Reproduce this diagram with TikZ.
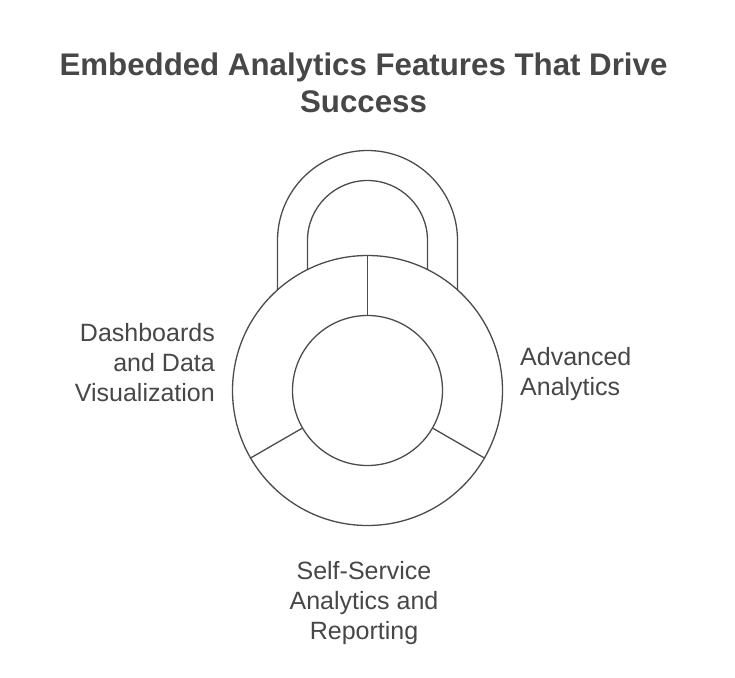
\documentclass[tikz,border=0pt]{standalone}
\usepackage{fontspec}
\setmainfont{Liberation Sans}
\tikzset{
  line/.style={draw=black!70!white,line width=1.3pt},
  label/.style={text=black!72!white,font=\fontsize{25}{30}\selectfont,inner sep=0pt,align=center},
  titletext/.style={text=black!72!white,font=\fontsize{31.25}{37.5}\selectfont\bfseries,inner sep=0pt,align=center}
}
\begin{document}
\begin{tikzpicture}[x=1pt,y=-1pt]
\useasboundingbox (0,0) rectangle (735,677);
\fill[white] (0,0) rectangle (735,677);
\coordinate (c) at (367.5,390.5);
\coordinate (sl) at (277.5,290);
\coordinate (sr) at (457.5,290);
\coordinate (il) at (307.5,269);
\coordinate (ir) at (427.5,269);
% shackle
\draw[line] (sl) -- (277.5,240.5) arc[start angle=180,end angle=360,radius=90] -- (sr);
\draw[line] (il) -- (307.5,240.5) arc[start angle=180,end angle=360,radius=60] -- (ir);
% body
\node[line,circle,minimum size=270pt,inner sep=0pt] (outer) at (c) {};
\node[line,circle,minimum size=150pt,inner sep=0pt] (inner) at (c) {};
\draw[line] (outer.north) -- (inner.north);
\draw[line] (outer.-30) -- (inner.-30);
\draw[line] (outer.210) -- (inner.210);
% text
\node[titletext] (title) at (363.5,83) {Embedded Analytics Features That Drive\\Success};
\node[label,align=right,anchor=east] (dash) at (215,363) {Dashboards\\and Data\\Visualization};
\node[label,align=left,anchor=west] (adv) at (520,374.5) {Advanced\\Analytics};
\node[label] (self) at (364,603.5) {Self-Service\\Analytics and\\Reporting};
\end{tikzpicture}
\end{document}
